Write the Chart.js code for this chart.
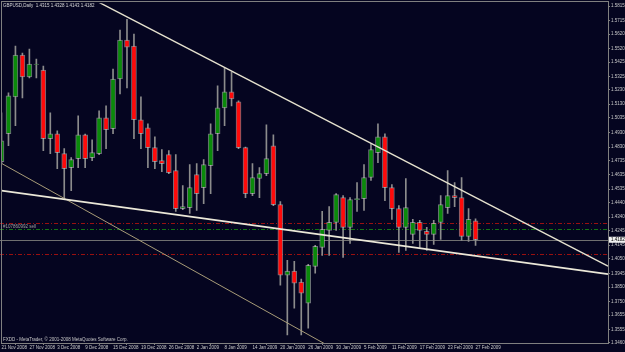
<!DOCTYPE html>
<html>
<head>
<meta charset="utf-8">
<script src="https://cdn.jsdelivr.net/npm/chart.js@4.4.1/dist/chart.umd.min.js"></script>
<style>
  html, body { margin: 0; padding: 0; background: #050520; }
</style>
</head>
<body>
<canvas id="chart" width="625" height="352"></canvas>
<script>
// GBPUSD daily bars, 21 Nov 2008 - 27 Feb 2009
const dates = [
  '21 Nov 2008', '24 Nov 2008', '25 Nov 2008', '26 Nov 2008', '27 Nov 2008', '28 Nov 2008',
  '1 Dec 2008', '2 Dec 2008', '3 Dec 2008', '4 Dec 2008', '5 Dec 2008', '8 Dec 2008',
  '9 Dec 2008', '10 Dec 2008', '11 Dec 2008', '12 Dec 2008', '15 Dec 2008', '16 Dec 2008',
  '17 Dec 2008', '18 Dec 2008', '19 Dec 2008', '22 Dec 2008', '23 Dec 2008', '24 Dec 2008',
  '26 Dec 2008', '29 Dec 2008', '30 Dec 2008', '31 Dec 2008', '2 Jan 2009', '5 Jan 2009',
  '6 Jan 2009', '7 Jan 2009', '8 Jan 2009', '9 Jan 2009', '12 Jan 2009', '13 Jan 2009',
  '14 Jan 2009', '15 Jan 2009', '16 Jan 2009', '19 Jan 2009', '20 Jan 2009', '21 Jan 2009',
  '22 Jan 2009', '23 Jan 2009', '26 Jan 2009', '27 Jan 2009', '28 Jan 2009', '29 Jan 2009',
  '30 Jan 2009', '2 Feb 2009', '3 Feb 2009', '4 Feb 2009', '5 Feb 2009', '6 Feb 2009',
  '9 Feb 2009', '10 Feb 2009', '11 Feb 2009', '12 Feb 2009', '13 Feb 2009', '16 Feb 2009',
  '17 Feb 2009', '18 Feb 2009', '19 Feb 2009', '20 Feb 2009', '23 Feb 2009', '24 Feb 2009',
  '25 Feb 2009', '26 Feb 2009', '27 Feb 2009'
];

const opens = [
  1.4728, 1.4923, 1.5181, 1.5474, 1.5320, 1.5408, 1.5369, 1.4888, 1.4923, 1.4784,
  1.4686, 1.4749, 1.4916, 1.4756, 1.4784, 1.5035, 1.4958, 1.5306, 1.5578, 1.5536,
  1.5021, 1.4965, 1.4826, 1.4735, 1.4777, 1.4665, 1.4400, 1.4407, 1.4637, 1.4547,
  1.4700, 1.4923, 1.5104, 1.5216, 1.5146, 1.4826, 1.4505, 1.4610, 1.4644, 1.4839,
  1.4428, 1.3934, 1.3962, 1.3885, 1.3739, 1.3996, 1.4129, 1.4247, 1.4303, 1.4477,
  1.4268, 1.4463, 1.4470, 1.4617, 1.4791, 1.4902, 1.4547, 1.4400, 1.4268, 1.4219,
  1.4303, 1.4240, 1.4219, 1.4303, 1.4407, 1.4491, 1.4477, 1.4205, 1.4315
];
const highs = [
  1.5069, 1.5209, 1.5536, 1.5487, 1.5515, 1.5446, 1.5397, 1.5069, 1.4944, 1.4819,
  1.4756, 1.5049, 1.4921, 1.4881, 1.5083, 1.5118, 1.5376, 1.5648, 1.5724, 1.5620,
  1.5181, 1.4993, 1.4902, 1.4812, 1.4805, 1.4777, 1.4561, 1.4707, 1.4714, 1.4742,
  1.4993, 1.5258, 1.5383, 1.5355, 1.5153, 1.4830, 1.4714, 1.4686, 1.4986, 1.4916,
  1.4449, 1.4038, 1.4031, 1.3906, 1.4010, 1.4143, 1.4380, 1.4414, 1.4505, 1.4491,
  1.4477, 1.4582, 1.4707, 1.4853, 1.4993, 1.4923, 1.4568, 1.4421, 1.4610, 1.4324,
  1.4317, 1.4268, 1.4317, 1.4491, 1.4665, 1.4582, 1.4617, 1.4400, 1.4328
];
const lows = [
  1.4714, 1.4839, 1.4979, 1.5174, 1.5313, 1.5313, 1.4805, 1.4784, 1.4679, 1.4477,
  1.4526, 1.4686, 1.4686, 1.4735, 1.4777, 1.4819, 1.4923, 1.5202, 1.5244, 1.4888,
  1.4819, 1.4686, 1.4679, 1.4658, 1.4644, 1.4380, 1.4393, 1.4366, 1.4387, 1.4435,
  1.4505, 1.4805, 1.4979, 1.5118, 1.4819, 1.4477, 1.4491, 1.4477, 1.4630, 1.4421,
  1.3864, 1.3516, 1.3704, 1.3516, 1.3564, 1.3948, 1.4073, 1.4073, 1.4247, 1.4059,
  1.4157, 1.4380, 1.4387, 1.4596, 1.4721, 1.4456, 1.4324, 1.4094, 1.4108, 1.4157,
  1.4129, 1.4108, 1.4150, 1.4184, 1.4366, 1.4414, 1.4178, 1.4171, 1.4143
];
const closes = [
  1.4874, 1.5188, 1.5474, 1.5320, 1.5411, 1.5411, 1.4888, 1.4923, 1.4791, 1.4679,
  1.4742, 1.4916, 1.4749, 1.4791, 1.5035, 1.4951, 1.5306, 1.5578, 1.5529, 1.5021,
  1.4923, 1.4826, 1.4728, 1.4714, 1.4651, 1.4400, 1.4414, 1.4547, 1.4505, 1.4707,
  1.4923, 1.5104, 1.5216, 1.5167, 1.4826, 1.4505, 1.4617, 1.4644, 1.4749, 1.4428,
  1.3934, 1.3962, 1.3878, 1.3808, 1.4003, 1.4136, 1.4254, 1.4303, 1.4498, 1.4268,
  1.4463, 1.4470, 1.4617, 1.4812, 1.4902, 1.4547, 1.4400, 1.4268, 1.4407, 1.4303,
  1.4247, 1.4219, 1.4296, 1.4428, 1.4491, 1.4477, 1.4205, 1.4324, 1.4182
];

// price scale labels on the right
const yTickLabels = [
  '1.5815', '1.5715', '1.5620', '1.5520', '1.5425', '1.5325', '1.5230', '1.5130', '1.5035',
  '1.4930', '1.4830', '1.4735', '1.4635', '1.4535', '1.4440', '1.4340', '1.4245', '1.4145',
  '1.4050', '1.3945', '1.3850', '1.3750', '1.3655', '1.3555', '1.3460'
];

// trend lines as [bar index, price]
const upperTrend = [[13, 1.5867], [87, 1.3998]];
const supportLine = [[0, 1.4525], [87, 1.3941]];
const lowerTrend = [[0, 1.4716], [47, 1.3437]];

// order levels
const stopLevels = [1.4296, 1.4080];
const orderPrice = 1.4254;
const bidPrice = 1.4182;

const shiftBars = 19; // empty space right of last bar

const BG = '#050520';
const FRAME = '#808080';
const FONT = 'Liberation Sans';

const labels = dates.concat(new Array(shiftBars).fill(''));

function lineData(points) {
  const arr = new Array(labels.length).fill(null);
  points.forEach(([i, v]) => { arr[i] = v; });
  return arr;
}

const bgPlugin = {
  id: 'bg',
  beforeDraw(chart) {
    const ctx = chart.ctx;
    ctx.save();
    ctx.fillStyle = BG;
    ctx.fillRect(0, 0, chart.width, chart.height);
    ctx.restore();
  }
};

const levelsPlugin = {
  id: 'levels',
  beforeDatasetsDraw(chart) {
    const { ctx, chartArea: a, scales: { y } } = chart;
    ctx.save();
    ctx.lineWidth = 1;
    const hline = (v, color, dash) => {
      const py = Math.round(y.getPixelForValue(v)) + 0.5;
      ctx.strokeStyle = color;
      ctx.setLineDash(dash);
      ctx.beginPath();
      ctx.moveTo(0, py);
      ctx.lineTo(a.right, py);
      ctx.stroke();
    };
    stopLevels.forEach(v => hline(v, '#9a1010', [4, 2, 1, 2]));
    hline(orderPrice, '#157515', [4, 2, 1, 2]);
    hline(bidPrice, '#707070', []);
    ctx.setLineDash([]);
    // ticket label
    ctx.font = '4.5px "' + FONT + '"';
    ctx.fillStyle = '#a0a0a0';
    ctx.textBaseline = 'bottom';
    ctx.fillText('#107860992 sell', 3, Math.round(y.getPixelForValue(orderPrice)));
    ctx.restore();
  }
};

const framePlugin = {
  id: 'frame',
  afterDraw(chart) {
    const { ctx, chartArea: a, scales: { y } } = chart;
    ctx.save();
    ctx.strokeStyle = FRAME;
    ctx.lineWidth = 1;
    ctx.strokeRect(1.5, 1.5, Math.round(a.right) - 1, Math.round(a.bottom) - 1);
    // current price box
    const py = y.getPixelForValue(bidPrice);
    ctx.fillStyle = '#f0f0f0';
    ctx.fillRect(a.right + 1, py - 3, 16, 6);
    ctx.fillStyle = '#000000';
    ctx.font = '4.5px "' + FONT + '"';
    ctx.textBaseline = 'middle';
    ctx.fillText(bidPrice.toFixed(4), a.right + 3, py);
    // header and footer text
    ctx.fillStyle = '#d8d8d8';
    ctx.fillText('GBPUSD,Daily  1.4315 1.4328 1.4143 1.4182', 3, 5.5);
    ctx.fillStyle = '#c8c8c8';
    ctx.fillText('FXDD - MetaTrader, \u00a9 2001-2008 MetaQuotes Software Corp.', 3, 339.5);
    ctx.restore();
  }
};

new Chart(document.getElementById('chart'), {
  type: 'bar',
  data: {
    labels: labels,
    datasets: [
      {
        type: 'line',
        data: lineData(upperTrend),
        borderColor: '#e6e2cf',
        borderWidth: 1.4,
        pointRadius: 0,
        spanGaps: true,
        order: -1
      },
      {
        type: 'line',
        data: lineData(supportLine),
        borderColor: '#ebe8d8',
        borderWidth: 1.8,
        pointRadius: 0,
        spanGaps: true,
        order: -1
      },
      {
        type: 'line',
        data: lineData(lowerTrend),
        borderColor: '#a89c78',
        borderWidth: 1,
        pointRadius: 0,
        spanGaps: true,
        order: -1
      },
      {
        // bodies
        data: opens.map((o, i) => [o, closes[i]]),
        backgroundColor: opens.map((o, i) => closes[i] >= o ? '#0a8a0a' : '#ff0a0a'),
        borderColor: 'rgba(200,200,200,0.55)',
        borderWidth: 1,
        borderSkipped: false,
        barThickness: 5,
        grouped: false,
        order: 0
      },
      {
        // wicks
        data: lows.map((l, i) => [l, highs[i]]),
        backgroundColor: '#8c8c8c',
        borderWidth: 0,
        barThickness: 1,
        grouped: false,
        order: 1
      }
    ]
  },
  options: {
    responsive: false,
    animation: false,
    layout: { padding: { left: 1.5, top: 2, right: 0, bottom: 0 } },
    plugins: {
      legend: { display: false },
      tooltip: { enabled: false }
    },
    scales: {
      x: {
        type: 'category',
        offset: false,
        grid: { drawOnChartArea: false, color: FRAME, tickLength: 2 },
        border: { display: true, color: FRAME },
        afterBuildTicks: (s) => {
          s.ticks = s.ticks.filter(t => t.value % 4 === 0 && t.value < dates.length);
        },
        afterFit: (s) => { s.height = 9; },
        ticks: {
          autoSkip: false,
          maxRotation: 0,
          minRotation: 0,
          align: 'start',
          padding: 1,
          color: '#c8c8c8',
          font: { family: FONT, size: 4.5, lineHeight: 1 },
          callback: function (v) { return this.getLabelForValue(v); }
        }
      },
      y: {
        type: 'linear',
        position: 'right',
        min: 1.34598,
        max: 1.58359,
        grid: { drawOnChartArea: false, color: FRAME, tickLength: 2 },
        border: { display: true, color: FRAME },
        afterBuildTicks: (s) => {
          s.ticks = yTickLabels.map(t => ({ value: parseFloat(t) }));
        },
        afterFit: (s) => { s.width = 17; },
        ticks: {
          autoSkip: false,
          padding: 1,
          color: '#c8c8c8',
          font: { family: FONT, size: 4.5, lineHeight: 1 },
          callback: (v) => v.toFixed(4)
        }
      }
    }
  },
  plugins: [bgPlugin, levelsPlugin, framePlugin]
});
</script>
</body>
</html>
